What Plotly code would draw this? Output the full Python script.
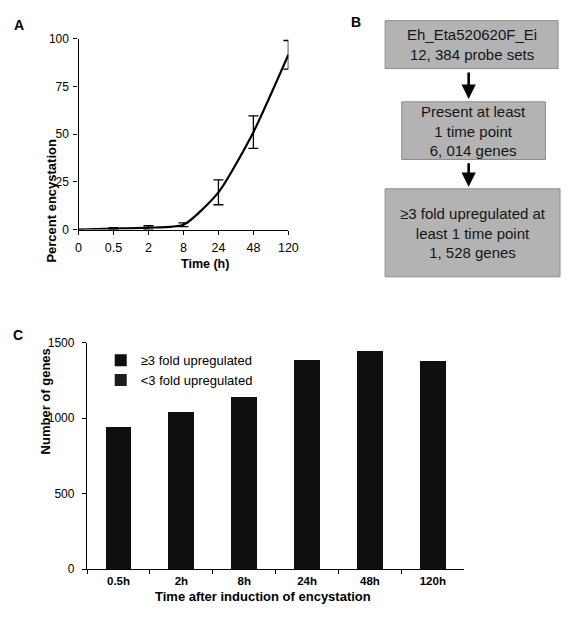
import plotly.graph_objects as go

W, H = 572, 623

# Panel A data
time_labels = ["0", "0.5", "2", "8", "24", "48", "120"]
encystation = [0, 0.5, 1, 2.5, 19.5, 51, 91.5]
encyst_err = [0, 0.5, 1, 1, 6.5, 8.5, 7.5]

# Panel C data
timepoints = ["0.5h", "2h", "8h", "24h", "48h", "120h"]
fold_ge3 = [943, 1040, 1137, 1385, 1441, 1377]
fold_lt3 = [0, 0, 0, 0, 0, 0]

# Panel B text
box_texts = [
    "Eh_Eta520620F_Ei<br>12, 384 probe sets",
    "Present at least<br>1 time point<br>6, 014 genes",
    "≥3 fold upregulated at<br>least 1 time point<br>1, 528 genes",
]

FONT = "Liberation Sans, Arial, sans-serif"

def px(x):
    return x / W

def py(y):
    return 1 - y / H

fig = go.Figure()

fig.add_trace(go.Scatter(
    x=list(range(len(time_labels))), y=encystation,
    mode="lines", line=dict(color="black", width=2.2, shape="spline", smoothing=0.6),
    error_y=dict(type="data", array=encyst_err, color="black", thickness=1.3, width=5),
    xaxis="x", yaxis="y", showlegend=False, cliponaxis=False,
))

fig.add_trace(go.Bar(
    x=timepoints, y=fold_ge3, name="≥3 fold upregulated",
    marker=dict(color="#0f0f0f", line=dict(width=0)), width=0.41,
    xaxis="x2", yaxis="y2",
))
fig.add_trace(go.Bar(
    x=timepoints, y=fold_lt3, name="<3 fold upregulated",
    marker=dict(color="#1c1c1c", line=dict(width=0)), width=0.41,
    xaxis="x2", yaxis="y2",
))

def axis_common(size, weight="normal", standoff=0):
    return dict(showgrid=False, zeroline=False, showline=True, linecolor="black",
                linewidth=1.4, ticks="outside", tickcolor="black", ticklen=4, tickwidth=1.2,
                ticklabelstandoff=standoff,
                tickfont=dict(family=FONT, size=size, color="black", weight=weight))

shapes = []
annotations = []

# Panel B boxes
boxes = [(391, 14, 568, 63), (408, 97, 555, 156), (391, 186, 570, 276)]
for (x0, y0, x1, y1), t in zip(boxes, box_texts):
    shapes.append(dict(type="rect", xref="paper", yref="paper",
                       x0=px(x0), x1=px(x1), y0=py(y1), y1=py(y0),
                       fillcolor="#b3b3b3", line=dict(color="#8c8c8c", width=1)))
    annotations.append(dict(xref="paper", yref="paper", x=px((x0 + x1) / 2), y=py((y0 + y1) / 2),
                            text=t, showarrow=False, xanchor="center", yanchor="middle",
                            font=dict(family=FONT, size=15, color="#151515"), align="center"))

# arrows
for (ytail, yhead) in [(66, 94), (159, 184)]:
    annotations.append(dict(xref="paper", yref="paper", x=px(476.5), y=py(yhead),
                            ax=0, ay=-(yhead - ytail), axref="pixel", ayref="pixel",
                            showarrow=True, arrowhead=2, arrowsize=1.1, arrowwidth=2.6,
                            arrowcolor="black", text=""))

# panel labels
for lab, x, y in [("A", 16, 18), ("B", 361, 15), ("C", 15, 336)]:
    annotations.append(dict(xref="paper", yref="paper", x=px(x), y=py(y), text=f"<b>{lab}</b>",
                            showarrow=False, xanchor="center", yanchor="middle",
                            font=dict(family=FONT, size=14, color="black")))

# axis titles
annotations.append(dict(xref="paper", yref="paper", x=px(180), y=py(263),
                        text="<b>Time (h)</b>", showarrow=False,
                        font=dict(family=FONT, size=12.5, color="black")))
annotations.append(dict(xref="paper", yref="paper", x=px(39), y=py(133),
                        text="<b>Percent encystation</b>", showarrow=False, textangle=-90,
                        font=dict(family=FONT, size=13, color="black")))
annotations.append(dict(xref="paper", yref="paper", x=px(266), y=py(613),
                        text="<b>Time after induction of encystation</b>", showarrow=False,
                        font=dict(family=FONT, size=13, color="black")))
annotations.append(dict(xref="paper", yref="paper", x=px(34), y=py(460),
                        text="<b>Number of genes</b>", showarrow=False, textangle=-90,
                        font=dict(family=FONT, size=13, color="black")))

fig.update_layout(
    width=W, height=H, margin=dict(l=0, r=0, t=0, b=0),
    paper_bgcolor="white", plot_bgcolor="white",
    barmode="stack", showlegend=True,
    legend=dict(x=px(100), y=py(346), xanchor="left", yanchor="top", traceorder="normal",
                font=dict(family=FONT, size=13, color="black"),
                bgcolor="rgba(0,0,0,0)", itemwidth=30, tracegroupgap=0),
    xaxis=dict(domain=[px(77.3), px(292)], range=[0, 6],
               tickmode="array", tickvals=list(range(len(time_labels))), ticktext=time_labels,
               anchor="y", **axis_common(12.5, standoff=2)),
    yaxis=dict(domain=[py(227.7), py(32.3)], range=[0, 100], tickvals=[0, 25, 50, 75, 100],
               anchor="x", **axis_common(12, standoff=2)),
    xaxis2=dict(domain=[px(86), px(472)], type="category", range=[-0.5, 5.5],
                tickson="boundaries", anchor="y2", **axis_common(11.5, "bold", standoff=1)),
    yaxis2=dict(domain=[py(575), py(343.3)], range=[0, 1500], tickvals=[0, 500, 1000, 1500],
                anchor="x2", **axis_common(12, standoff=5)),
    shapes=shapes, annotations=annotations,
)

fig.write_html("out.html", config={"displayModeBar": False},
               post_script="document.body.style.margin='0px';document.body.style.overflow='hidden';")
